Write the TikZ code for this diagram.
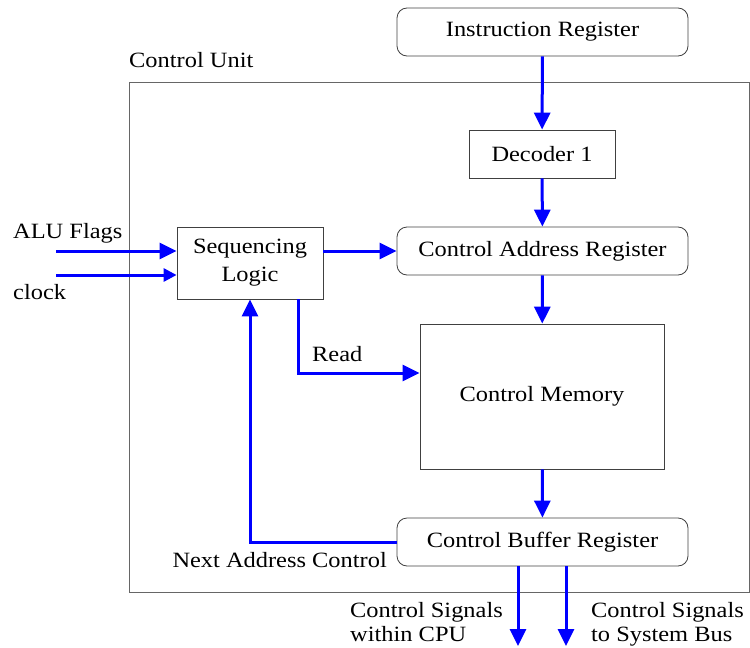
\documentclass[tikz,border=0pt]{standalone}
\usepackage{fontspec}
\setmainfont{Liberation Serif}[FakeStretch=1.12]
\usetikzlibrary{arrows.meta}
\begin{document}
\begin{tikzpicture}[x=1pt,y=-1pt,
  txt/.style={font=\fontsize{21.8}{28}\selectfont},
  box/.style={draw=black!75,line width=0.8pt,inner sep=0pt,txt,align=center},
  rbox/.style={box,rounded corners=10pt},
  sig/.style={draw=blue,line width=3pt,-{Triangle[length=17pt,width=16pt]}},
  sigs/.style={draw=blue,line width=3pt,-{Triangle[length=13pt,width=13pt]}},
  lbl/.style={txt,inner sep=0pt,align=left}]
\useasboundingbox (0,0) rectangle (750,648);
\draw[black!60,line width=1pt] (129,82) rectangle (749,592);
\node[lbl,anchor=base west] (cu) at (129,67) {Control Unit};
\node[rbox,minimum width=291pt,minimum height=48pt] (ir) at (542.5,32) {Instruction Register};
\node[box,minimum width=146pt,minimum height=48pt] (dec) at (542,154) {Decoder 1};
\node[rbox,minimum width=291pt,minimum height=48pt] (car) at (542.5,251) {Control Address Register};
\node[box,minimum width=146pt,minimum height=72pt] (sl) at (250,263) {Sequencing\\Logic};
\node[box,minimum width=244pt,minimum height=145pt] (cm) at (542,396.5) {Control Memory};
\node[rbox,minimum width=291pt,minimum height=48pt] (cbr) at (542.5,542) {Control Buffer Register};
\coordinate (alu) at (56,251);
\coordinate (clk) at (56,275);
\coordinate (o1) at (518,646);
\coordinate (o2) at (566,646);
\node[lbl,anchor=base west] (alul) at (13,238) {ALU Flags};
\node[lbl,anchor=base west] (clkl) at (13,299) {clock};
\draw[sig] (ir) -- (dec);
\draw[sig] (dec) -- (car);
\draw[sig] (car) -- (cm);
\draw[sig] (cm) -- (cbr);
\draw[sig] (sl.east |- car) -- (car.west);
\draw[sig] (alu) -- (alu -| sl.west);
\draw[sigs] (clk) -- (clk -| sl.west);
\draw[sig] (298,299) |- (cm.west |- 0,373);
\node[lbl,anchor=base west] (rd) at (312,361) {Read};
\draw[sig] (cbr.west) -| (sl.south);
\node[lbl,anchor=base east] (nac) at (387,567) {Next Address Control};
\draw[sig] (o1 |- cbr.south) -- (o1);
\draw[sig] (o2 |- cbr.south) -- (o2);
\node[lbl,anchor=base west,font=\fontsize{21.8}{24}\selectfont] (l1) at (350,641) {Control Signals\\within CPU};
\node[lbl,anchor=base west,font=\fontsize{21.8}{24}\selectfont] (l2) at (591,641) {Control Signals\\to System Bus};
\end{tikzpicture}
\end{document}
